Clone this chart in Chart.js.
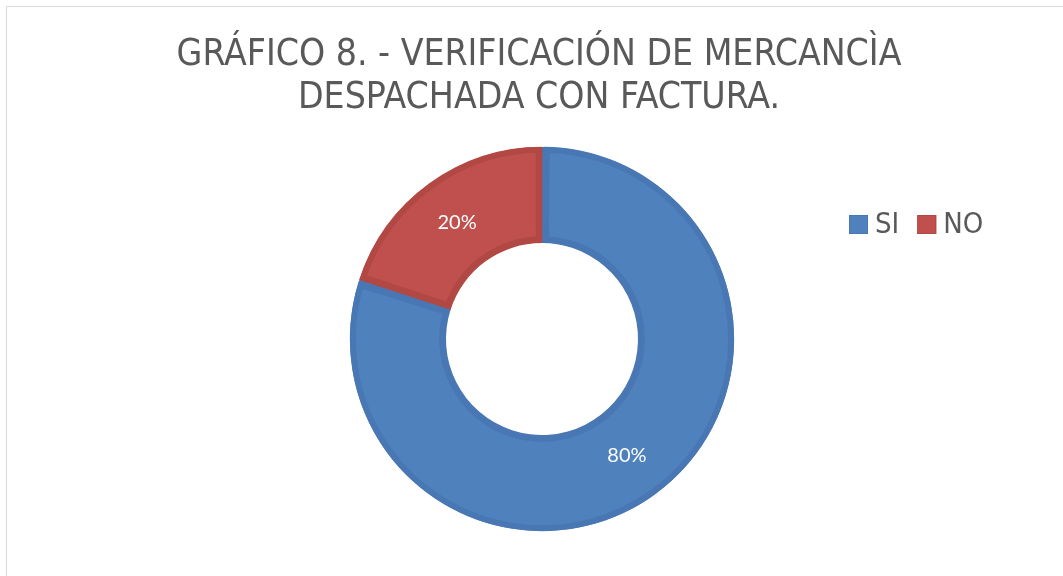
<!DOCTYPE html>
<html>
<head>
<meta charset="utf-8">
<script src="https://cdn.jsdelivr.net/npm/chart.js@4.4.1/dist/chart.umd.min.js"></script>
<style>
  html, body { margin: 0; padding: 0; background: #fff; }
  #wrap { position: relative; width: 1063px; height: 576px; }
  #frame { position: absolute; left: 6px; top: 6px; width: 1070px; height: 580px; border: 1px solid #d9d9d9; box-sizing: border-box; }
  canvas { position: absolute; left: 0; top: 0; }
</style>
</head>
<body>
<div id="wrap">
  <div id="frame"></div>
  <canvas id="chartDonut" width="1063" height="576"></canvas>
</div>
<script>
// Datos
const categories = ['SI', 'NO'];
const values = [80, 20];
const fillColors = ['#4f81bd', '#c0504d'];
const edgeColors = ['#4877b4', '#b14844'];
const titleLines = ['GRÁFICO 8. - VERIFICACIÓN DE MERCANCÌA', 'DESPACHADA CON FACTURA.'];

const TITLE_FONT = '"Liberation Sans Narrow", "DejaVu Sans Condensed", sans-serif';

// Título en dos líneas, posición fija como en el original
const topTitle = {
  id: 'topTitle',
  afterDraw(chart) {
    const ctx = chart.ctx;
    ctx.save();
    ctx.fillStyle = '#595959';
    ctx.font = '37px ' + TITLE_FONT;
    ctx.textAlign = 'center';
    ctx.textBaseline = 'alphabetic';
    ctx.fillText(titleLines[0], 539, 65);
    ctx.fillText(titleLines[1], 539, 108);
    ctx.restore();
  }
};

// Etiquetas de porcentaje dentro de cada segmento
const sliceLabels = {
  id: 'sliceLabels',
  afterDatasetsDraw(chart) {
    const ctx = chart.ctx;
    const meta = chart.getDatasetMeta(0);
    const total = values.reduce((s, v) => s + v, 0);
    ctx.save();
    ctx.fillStyle = '#ffffff';
    ctx.font = '20px Lato, "Open Sans", sans-serif';
    ctx.textAlign = 'center';
    ctx.textBaseline = 'middle';
    meta.data.forEach((arc, i) => {
      const p = arc.tooltipPosition();
      ctx.fillText(Math.round(values[i] / total * 100) + '%', p.x, p.y);
    });
    ctx.restore();
  }
};

// Leyenda a la derecha, como en Excel
const sideLegend = {
  id: 'sideLegend',
  afterDraw(chart) {
    const ctx = chart.ctx;
    let x = 849;
    const y = 224;
    ctx.save();
    ctx.font = '29px ' + TITLE_FONT;
    ctx.textBaseline = 'middle';
    categories.forEach((c, i) => {
      ctx.fillStyle = fillColors[i];
      ctx.fillRect(x, y - 9, 19, 19);
      ctx.strokeStyle = edgeColors[i];
      ctx.lineWidth = 1;
      ctx.strokeRect(x + 0.5, y - 8.5, 18, 18);
      ctx.fillStyle = '#595959';
      ctx.fillText(c, x + 26, y + 1);
      x += 26 + ctx.measureText(c).width + 18;
    });
    ctx.restore();
  }
};

new Chart(document.getElementById('chartDonut'), {
  type: 'doughnut',
  data: {
    labels: categories,
    datasets: [{
      data: values,
      backgroundColor: fillColors,
      borderColor: edgeColors,
      borderWidth: 6,
      borderAlign: 'inner',
      hoverOffset: 0,
      spacing: 1
    }]
  },
  options: {
    responsive: false,
    animation: false,
    cutout: '50%',
    radius: 192,
    layout: { padding: { top: 147, bottom: 45, left: 100, right: 79 } },
    plugins: {
      legend: { display: false },
      tooltip: { enabled: false },
      title: { display: false }
    }
  },
  plugins: [sliceLabels, sideLegend, topTitle]
});
</script>
</body>
</html>
